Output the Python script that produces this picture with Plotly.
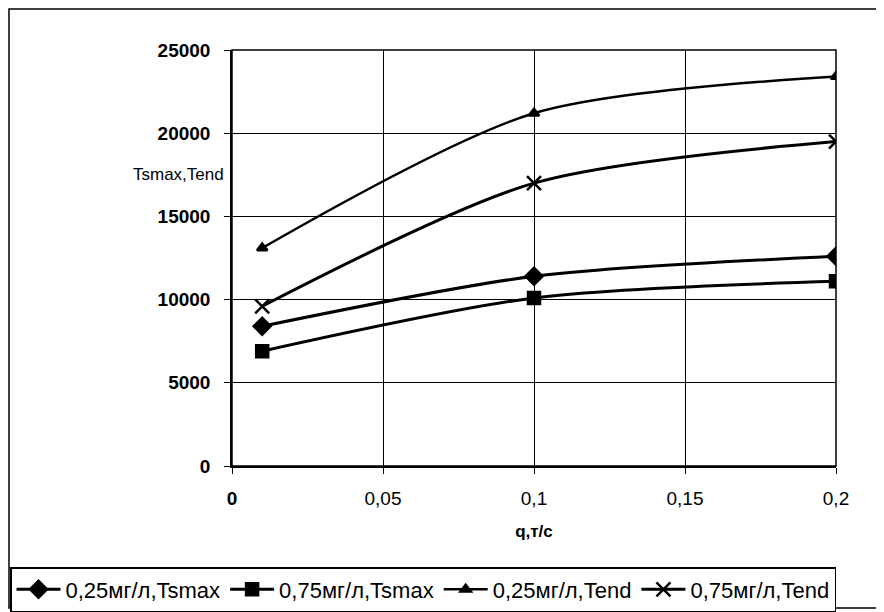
import plotly.graph_objects as go

q = [0.01, 0.1, 0.2]
tsmax_025 = [8400, 11400, 12600]
tsmax_075 = [6900, 10100, 11100]
tend_025 = [13100, 21200, 23400]
tend_075 = [9600, 17000, 19500]
names = ["0,25мг/л,Tsmax", "0,75мг/л,Tsmax", "0,25мг/л,Tend", "0,75мг/л,Tend"]
x_ticks = [0, 0.05, 0.1, 0.15, 0.2]
x_ticktext = ["<b>0</b>", "0,05", "0,1", "0,15", "0,2"]
y_ticks = [0, 5000, 10000, 15000, 20000, 25000]
y_ticktext = ["<b>0</b>", "<b>5000</b>", "<b>10000</b>", "<b>15000</b>", "<b>20000</b>", "<b>25000</b>"]

symbols = ["diamond", "square", "triangle-up", "x-thin-open"]
series = [tsmax_025, tsmax_075, tend_025, tend_075]
sizes = [13, 12, 9, 14]
widths = [3, 3, 2.5, 3]

fig = go.Figure()
for n, s, y, sz, w in zip(names, symbols, series, sizes, widths):
    fig.add_trace(go.Scatter(
        x=q, y=y, name=n, mode="lines+markers",
        line=dict(color="black", width=w, shape="spline", smoothing=0.8),
        marker=dict(symbol=s, size=sz, color="black",
                    line=dict(color="black", width=2.5)),
    ))

# page is offset by the 8px body margin
L, T, R, B = 224, 42, 56, 154
W, H = 884, 612
pw, ph = W - L - R, H - T - B

font = dict(family="Liberation Sans, Arial, sans-serif", color="black", size=18)
fig.update_layout(
    width=W, height=H,
    margin=dict(l=L, r=R, t=T, b=B, autoexpand=False),
    paper_bgcolor="white", plot_bgcolor="white",
    font=font,
    showlegend=True,
    legend=dict(orientation="h", xref="paper", yref="paper",
                x=(2 - L) / pw, xanchor="left", y=(H - B - 559) / ph, yanchor="top",
                bordercolor="black", borderwidth=1.5, font=dict(size=22),
                itemwidth=44, tracegroupgap=0),
    xaxis=dict(range=[0, 0.2], tickvals=x_ticks, ticktext=x_ticktext,
               tickfont=dict(size=19),
               showgrid=True, gridcolor="black", gridwidth=1,
               showline=True, linecolor="black", linewidth=1.5,
               ticks="outside", ticklen=6, tickcolor="black",
               ticklabelstandoff=8,
               zeroline=False,
               title=dict(text="<b>q,т/с</b>", font=dict(size=17), standoff=18)),
    yaxis=dict(range=[0, 25000], tickvals=y_ticks, ticktext=y_ticktext,
               tickfont=dict(size=19),
               showgrid=True, gridcolor="black", gridwidth=1,
               showline=True, linecolor="black", linewidth=1.5,
               ticks="outside", ticklen=6, tickcolor="black",
               ticklabelstandoff=10,
               zeroline=False),
    annotations=[dict(text="Tsmax,Tend", xref="paper", yref="paper",
                      x=-0.01, y=0.70, xanchor="right", yanchor="middle",
                      showarrow=False, font=dict(size=17))],
    shapes=[
        dict(type="rect", xref="paper", yref="paper", x0=0, x1=1, y0=0, y1=1,
             line=dict(color="black", width=1.5)),
        dict(type="rect", xref="paper", yref="paper",
             x0=(1 - L) / pw, x1=(874 - L) / pw,
             y0=(H - B - 600) / ph, y1=(H - B - 1) / ph,
             line=dict(color="black", width=1.5)),
    ],
)
fig.write_html("out.html")
